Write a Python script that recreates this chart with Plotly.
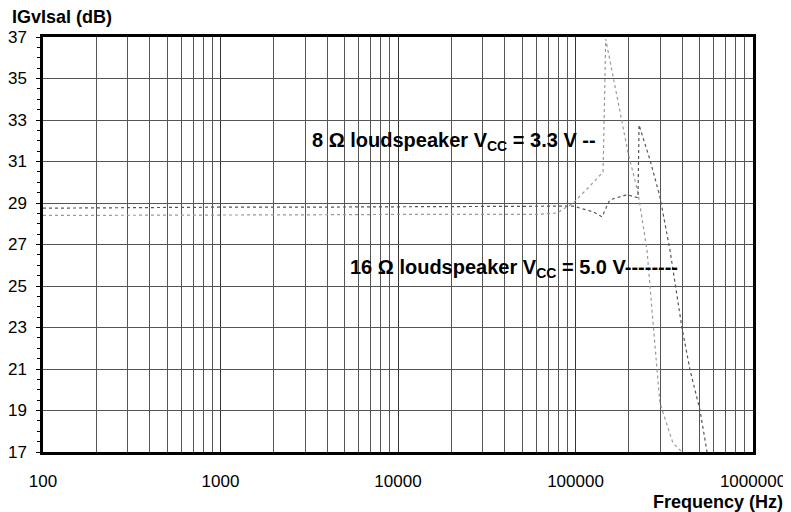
import plotly.graph_objects as go

# 8 ohm loudspeaker, Vcc = 3.3 V
freq_8 = [100, 300, 1000, 3000, 10000, 30000, 60000, 78700, 97000, 120000, 143000,
          148000, 171000, 198000, 225000, 253000, 263000, 274000, 288000, 299000,
          354000, 398000]
gain_8 = [28.40, 28.40, 28.42, 28.43, 28.45, 28.45, 28.45, 28.52, 29.0, 29.8, 30.5,
          36.9, 34.1, 31.4, 29.5, 26.7, 24.95, 23.0, 20.95, 19.36, 17.43, 17.0]

# 16 ohm loudspeaker, Vcc = 5.0 V
freq_16 = [100, 300, 1000, 3000, 10000, 30000, 60000, 97000, 126000, 141000, 156000,
           195000, 225000, 228000, 263000, 299000, 341000, 398000, 442000, 503000, 551000]
gain_16 = [28.75, 28.78, 28.8, 28.8, 28.82, 28.82, 28.82, 28.85, 28.57, 28.33, 29.15,
           29.4, 29.25, 32.76, 31.07, 29.3, 26.7, 22.98, 20.95, 19.0, 17.0]

x_ticks = [100, 1000, 10000, 100000, 1000000]
x_tick_text = ["100", "1000", "10000", "100000", "1000000"]
y_ticks = [17, 19, 21, 23, 25, 27, 29, 31, 33, 35, 37]

FONT = "Liberation Sans, Arial, sans-serif"

fig = go.Figure()
fig.add_trace(go.Scatter(
    x=freq_8, y=gain_8, mode="lines",
    line=dict(color="#9a9a9a", width=1.2, dash="dot"),
    name="8 Ω", showlegend=False,
))
fig.add_trace(go.Scatter(
    x=freq_16, y=gain_16, mode="lines",
    line=dict(color="#555555", width=1.2, dash="dot"),
    name="16 Ω", showlegend=False,
))

# curve labels
fig.add_annotation(x=5.127, y=31.95, xref="x", yref="y", xanchor="right",
                   text="<b>8 Ω loudspeaker V<sub>CC</sub> = 3.3 V --</b>",
                   showarrow=False, font=dict(size=20, color="black", family=FONT))
fig.add_annotation(x=5.589, y=25.85, xref="x", yref="y", xanchor="right",
                   text="<b>16 Ω loudspeaker V<sub>CC</sub> = 5.0 V--------</b>",
                   showarrow=False, font=dict(size=20, color="black", family=FONT))

# axis titles
fig.add_annotation(x=-0.046, y=1.048, xref="paper", yref="paper",
                   xanchor="left", yanchor="middle",
                   text="<b>IGvIsal (dB)</b>", showarrow=False,
                   font=dict(size=18, color="black", family=FONT))
fig.add_annotation(x=1.045, y=-0.12, xref="paper", yref="paper",
                   xanchor="right", yanchor="middle",
                   text="<b>Frequency (Hz)</b>", showarrow=False,
                   font=dict(size=18, color="black", family=FONT))

fig.update_xaxes(
    type="log", range=[2, 6], automargin=False,
    tickvals=x_ticks, ticktext=x_tick_text,
    showgrid=True, gridcolor="#333333", gridwidth=1,
    minor=dict(dtick="D1", showgrid=True, gridcolor="#555555", gridwidth=1, ticks=""),
    showline=True, linecolor="black", linewidth=2.5, mirror=True,
    ticks="", ticklabelstandoff=12,
    tickfont=dict(size=17, color="black", family=FONT),
    zeroline=False,
)
fig.update_yaxes(
    range=[17, 37], tickvals=y_ticks, automargin=False,
    showgrid=True, gridcolor="#555555", gridwidth=1,
    minor=dict(dtick=0.5, ticks="outside", ticklen=3, tickcolor="black", showgrid=False),
    showline=True, linecolor="black", linewidth=2.5, mirror=True,
    ticks="outside", ticklen=4, tickcolor="black", ticklabelstandoff=6,
    tickfont=dict(size=17, color="black", family=FONT),
    zeroline=False,
)

# the page body adds an 8 px offset, so the figure is sized to fit the window
fig.update_layout(
    width=783, height=504,
    margin=dict(l=35, r=38, t=29, b=60),
    plot_bgcolor="white", paper_bgcolor="white",
    font=dict(family=FONT, color="black"),
)

fig.write_html("out.html")
